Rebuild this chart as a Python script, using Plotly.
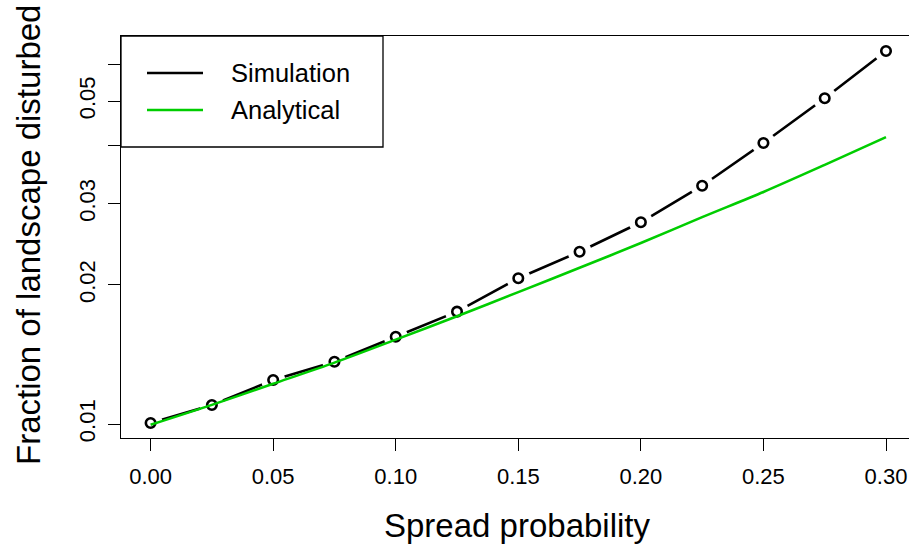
import plotly.graph_objects as go

spread = [0.000, 0.025, 0.050, 0.075, 0.100, 0.125, 0.150, 0.175, 0.200, 0.225, 0.250, 0.275, 0.300]
simulation = [0.01005, 0.01099, 0.01245, 0.01364, 0.01545, 0.01751, 0.02068, 0.02361, 0.02734, 0.03281, 0.04060, 0.05073, 0.06423]
analytical = [0.00996, 0.01100, 0.01222, 0.01358, 0.01523, 0.01712, 0.01930, 0.02180, 0.02465, 0.02805, 0.03180, 0.03640, 0.04180]

x_ticks = [0.00, 0.05, 0.10, 0.15, 0.20, 0.25, 0.30]
x_tick_labels = ["0.00", "0.05", "0.10", "0.15", "0.20", "0.25", "0.30"]
y_ticks = [0.01, 0.02, 0.03, 0.04, 0.05, 0.06]
y_tick_labels = ["0.01", "0.02", "0.03", "", "0.05", ""]
series_names = ["Simulation", "Analytical"]

BLACK = "#000000"
GREEN = "#00CD00"
FONT = "Liberation Sans, Arial, Helvetica, sans-serif"

fig = go.Figure()
fig.add_trace(go.Scatter(x=spread, y=simulation, mode="lines",
                         line=dict(color=BLACK, width=2.6), showlegend=False, hoverinfo="skip"))
fig.add_trace(go.Scatter(x=spread, y=simulation, mode="markers",
                         marker=dict(size=24, color="white", line=dict(width=0)),
                         showlegend=False, hoverinfo="skip"))
fig.add_trace(go.Scatter(x=spread, y=simulation, mode="markers", name=series_names[0],
                         marker=dict(size=9.5, color="white", symbol="circle",
                                     line=dict(color=BLACK, width=2.6)),
                         showlegend=False))
fig.add_trace(go.Scatter(x=spread, y=analytical, mode="lines", name=series_names[1],
                         line=dict(color=GREEN, width=2.6, shape="spline", smoothing=0.8),
                         showlegend=False))

# manual legend box (R style)
L, R_, T, B = 121, 909, 36, 438
W, H = R_ - L, B - T
def px(xp):
    return (xp - L) / W
def py(yp):
    return (B - yp) / H

shapes = [
    dict(type="rect", xref="paper", yref="paper", x0=px(121), x1=px(383), y0=py(147), y1=py(36),
         line=dict(color=BLACK, width=1.3), fillcolor="white", layer="above"),
    dict(type="line", xref="paper", yref="paper", x0=px(147), x1=px(203), y0=py(73), y1=py(73),
         line=dict(color=BLACK, width=2.6)),
    dict(type="line", xref="paper", yref="paper", x0=px(147), x1=px(203), y0=py(110), y1=py(110),
         line=dict(color=GREEN, width=2.6)),
]
annotations = [
    dict(text=series_names[0], xref="paper", yref="paper", x=px(229), y=py(73), xanchor="left",
         yanchor="middle", showarrow=False, font=dict(family=FONT, size=25.5, color=BLACK)),
    dict(text=series_names[1], xref="paper", yref="paper", x=px(229), y=py(110), xanchor="left",
         yanchor="middle", showarrow=False, font=dict(family=FONT, size=25.5, color=BLACK)),
    dict(text="Spread probability", xref="paper", yref="paper", x=(517 - L) / W, y=0,
         xanchor="center", yanchor="middle", yshift=-(525 - B), showarrow=False,
         font=dict(family=FONT, size=33, color=BLACK)),
    dict(text="Fraction of landscape disturbed", xref="paper", yref="paper", x=0, y=py(235),
         xanchor="center", yanchor="middle", xshift=-(L - 28), textangle=-90, showarrow=False,
         font=dict(family=FONT, size=33, color=BLACK)),
]

ppu_x = (886 - 150.6) / 0.30
x0 = 0 - (150.6 - L) / ppu_x
x1 = 0.30 + (R_ - 886) / ppu_x
ppd = 461.8
y_lo = -2 - (B - 424) / ppd
y_hi = -2 + (424 - T) / ppd

fig.update_layout(
    width=909, height=548,
    margin=dict(l=L, r=909 - R_, t=T, b=548 - B, autoexpand=False),
    paper_bgcolor="white", plot_bgcolor="white",
    font=dict(family=FONT, color=BLACK),
    shapes=shapes, annotations=annotations,
    xaxis=dict(range=[x0, x1], tickvals=x_ticks, ticktext=x_tick_labels,
               ticks="outside", ticklen=12, tickwidth=1.3, tickcolor=BLACK,
               showline=True, linecolor=BLACK, linewidth=1.3, mirror=True,
               showgrid=False, zeroline=False, tickfont=dict(size=22, color=BLACK),
               ticklabelstandoff=6),
    yaxis=dict(type="log", range=[y_lo, y_hi], tickvals=y_ticks, ticktext=y_tick_labels,
               ticks="outside", ticklen=12, tickwidth=1.3, tickcolor=BLACK,
               showline=True, linecolor=BLACK, linewidth=1.3, mirror=False,
               showgrid=False, zeroline=False, tickangle=-90,
               tickfont=dict(size=22, color=BLACK), ticklabelstandoff=4),
)

fig.write_html("out.html")
